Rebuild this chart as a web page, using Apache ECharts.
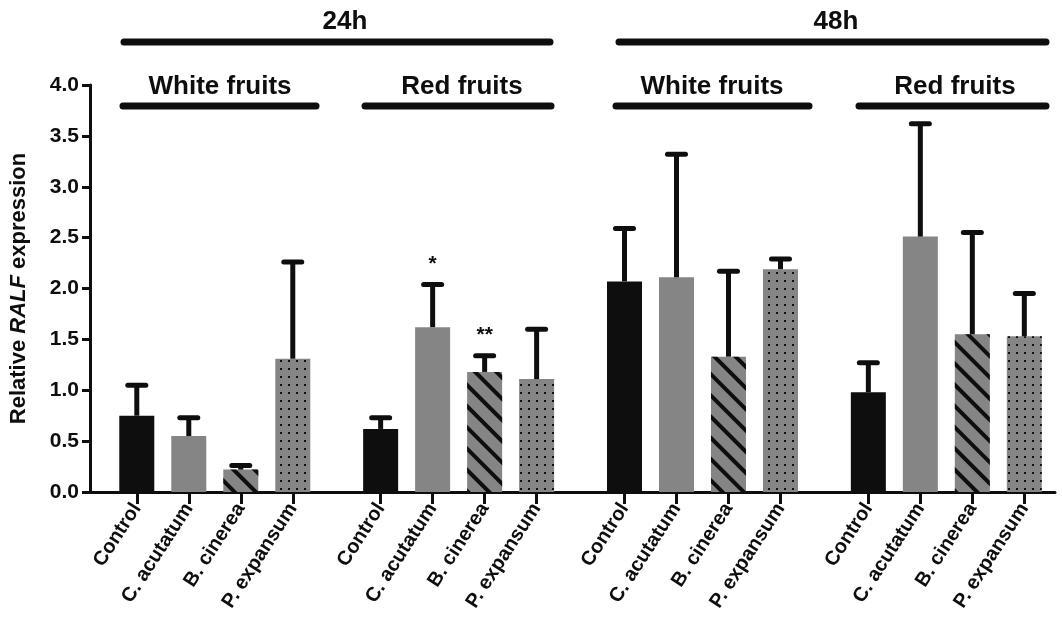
<!DOCTYPE html>
<html>
<head>
<meta charset="utf-8">
<script src="https://cdn.jsdelivr.net/npm/echarts@6/dist/echarts.min.js"></script>
<style>
html,body{margin:0;padding:0;background:#fff;}
#chart{width:1062px;height:639px;}
</style>
</head>
<body>
<div id="chart"></div>
<script>
// ---- data ----
const treatments = ['Control', 'C. acutatum', 'B. cinerea', 'P. expansum'];
const groupNames = ['White fruits', 'Red fruits', 'White fruits', 'Red fruits'];
const timeNames = ['24h', '48h'];

const mean24White = [0.75, 0.55, 0.22, 1.31];
const sd24White   = [0.30, 0.18, 0.04, 0.95];
const mean24Red   = [0.62, 1.62, 1.18, 1.11];
const sd24Red     = [0.11, 0.42, 0.16, 0.49];
const mean48White = [2.07, 2.11, 1.33, 2.19];
const sd48White   = [0.52, 1.21, 0.84, 0.10];
const mean48Red   = [0.98, 2.51, 1.55, 1.53];
const sd48Red     = [0.29, 1.11, 1.00, 0.42];
const sig24Red    = ['', '*', '**', ''];

// ---- build ----
const means = [mean24White, mean24Red, mean48White, mean48Red];
const sds = [sd24White, sd24Red, sd48White, sd48Red];
const sigs = [['', '', '', ''], sig24Red, ['', '', '', ''], ['', '', '', '']];
const GROUP_STEP = 4.69;

const BLACK = '#0e0e0e';
const GRAY = '#858585';
const stripeDecal = {
  symbol: 'rect', symbolSize: 1, symbolKeepAspect: false,
  color: BLACK, dashArrayX: [1, 0], dashArrayY: [4, 11], rotation: Math.PI / 4
};
const dotDecal = {
  symbol: 'rect', symbolSize: 1, symbolKeepAspect: false,
  color: BLACK, dashArrayX: [2, 6], dashArrayY: [2, 6], rotation: 0
};
const styleFor = [
  { color: BLACK },
  { color: GRAY },
  { color: GRAY, decal: stripeDecal },
  { color: GRAY, decal: dotDecal }
];

const positions = [];
const labelAt = [];
const barData = [];
const errData = [];
means.forEach((g, gi) => {
  g.forEach((v, i) => {
    const x = +(gi * GROUP_STEP + i).toFixed(3);
    positions.push(x);
    labelAt.push(treatments[i]);
    barData.push({ value: [x, v], itemStyle: styleFor[i] });
    errData.push([x, v, v + sds[gi][i], sigs[gi][i]]);
  });
});
function labelFor(val) {
  let best = 0, bd = 1e9;
  positions.forEach((p, i) => { const d = Math.abs(p - val); if (d < bd) { bd = d; best = i; } });
  return bd < 0.01 ? labelAt[best] : '';
}

const chart = echarts.init(document.getElementById('chart'));
const FONT = '"Liberation Sans", Arial, sans-serif';

const option = {
  backgroundColor: '#ffffff',
  animation: false,
  grid: { left: 90, right: 7, top: 85, bottom: 147, containLabel: false },
  xAxis: {
    type: 'value', min: -0.9, max: 17.66,
    splitLine: { show: false },
    axisLine: { show: true, onZero: false, lineStyle: { color: BLACK, width: 3 } },
    axisTick: { show: true, customValues: positions, length: 12, lineStyle: { color: BLACK, width: 3 } },
    axisLabel: {
      customValues: positions, formatter: labelFor, rotate: 57, margin: 13,
      color: BLACK, fontFamily: FONT, fontWeight: 'bold', fontSize: 20
    }
  },
  yAxis: {
    type: 'value', min: 0, max: 4, interval: 0.5,
    splitLine: { show: false },
    axisLine: { show: true, onZero: false, lineStyle: { color: BLACK, width: 3 } },
    axisTick: { show: true, length: 8, lineStyle: { color: BLACK, width: 3 } },
    axisLabel: {
      margin: 11, color: BLACK, fontFamily: FONT, fontWeight: 'bold', fontSize: 21,
      formatter: v => v.toFixed(1)
    },
    name: '{a|Relative }{b|RALF}{a| expression}',
    nameLocation: 'middle', nameGap: 60,
    nameTextStyle: {
      rich: {
        a: { fontFamily: FONT, fontWeight: 'bold', fontSize: 22, color: BLACK },
        b: { fontFamily: FONT, fontWeight: 'bold', fontStyle: 'italic', fontSize: 22, color: BLACK }
      }
    }
  },
  series: [
    {
      type: 'bar', barWidth: 35, data: barData, z: 2
    },
    {
      type: 'custom', z: 3, data: errData,
      renderItem: function (params, api) {
        const x = api.value(0);
        const base = api.coord([x, api.value(1)]);
        const top = api.coord([x, api.value(2)]);
        const sig = api.value(3);
        const children = [
          { type: 'line', shape: { x1: base[0], y1: base[1], x2: top[0], y2: top[1] },
            style: { stroke: BLACK, lineWidth: 5 } },
          { type: 'line', shape: { x1: top[0] - 9, y1: top[1], x2: top[0] + 9, y2: top[1] },
            style: { stroke: BLACK, lineWidth: 5, lineCap: 'round' } }
        ];
        if (sig) {
          children.push({ type: 'text', x: top[0], y: top[1] - 20,
            style: { text: sig, fill: BLACK, font: 'bold 21px ' + FONT, align: 'center', verticalAlign: 'middle' } });
        }
        return { type: 'group', children: children };
      }
    }
  ],
  graphic: [
    { type: 'text', x: 345, y: 22, style: { text: timeNames[0], font: 'bold 26px ' + FONT, fill: BLACK, align: 'center', verticalAlign: 'middle' } },
    { type: 'text', x: 836, y: 22, style: { text: timeNames[1], font: 'bold 26px ' + FONT, fill: BLACK, align: 'center', verticalAlign: 'middle' } },
    { type: 'line', shape: { x1: 124, y1: 42, x2: 550, y2: 42 }, style: { stroke: BLACK, lineWidth: 7, lineCap: 'round' } },
    { type: 'line', shape: { x1: 619, y1: 42, x2: 1046, y2: 42 }, style: { stroke: BLACK, lineWidth: 7, lineCap: 'round' } },
    { type: 'text', x: 220, y: 87, style: { text: groupNames[0], font: 'bold 26px ' + FONT, fill: BLACK, align: 'center', verticalAlign: 'middle' } },
    { type: 'text', x: 462, y: 87, style: { text: groupNames[1], font: 'bold 26px ' + FONT, fill: BLACK, align: 'center', verticalAlign: 'middle' } },
    { type: 'text', x: 712, y: 87, style: { text: groupNames[2], font: 'bold 26px ' + FONT, fill: BLACK, align: 'center', verticalAlign: 'middle' } },
    { type: 'text', x: 955, y: 87, style: { text: groupNames[3], font: 'bold 26px ' + FONT, fill: BLACK, align: 'center', verticalAlign: 'middle' } },
    { type: 'line', shape: { x1: 123, y1: 106, x2: 316, y2: 106 }, style: { stroke: BLACK, lineWidth: 7, lineCap: 'round' } },
    { type: 'line', shape: { x1: 365, y1: 106, x2: 551, y2: 106 }, style: { stroke: BLACK, lineWidth: 7, lineCap: 'round' } },
    { type: 'line', shape: { x1: 616, y1: 106, x2: 809, y2: 106 }, style: { stroke: BLACK, lineWidth: 7, lineCap: 'round' } },
    { type: 'line', shape: { x1: 859, y1: 106, x2: 1046, y2: 106 }, style: { stroke: BLACK, lineWidth: 7, lineCap: 'round' } }
  ]
};
chart.setOption(option);
</script>
</body>
</html>
